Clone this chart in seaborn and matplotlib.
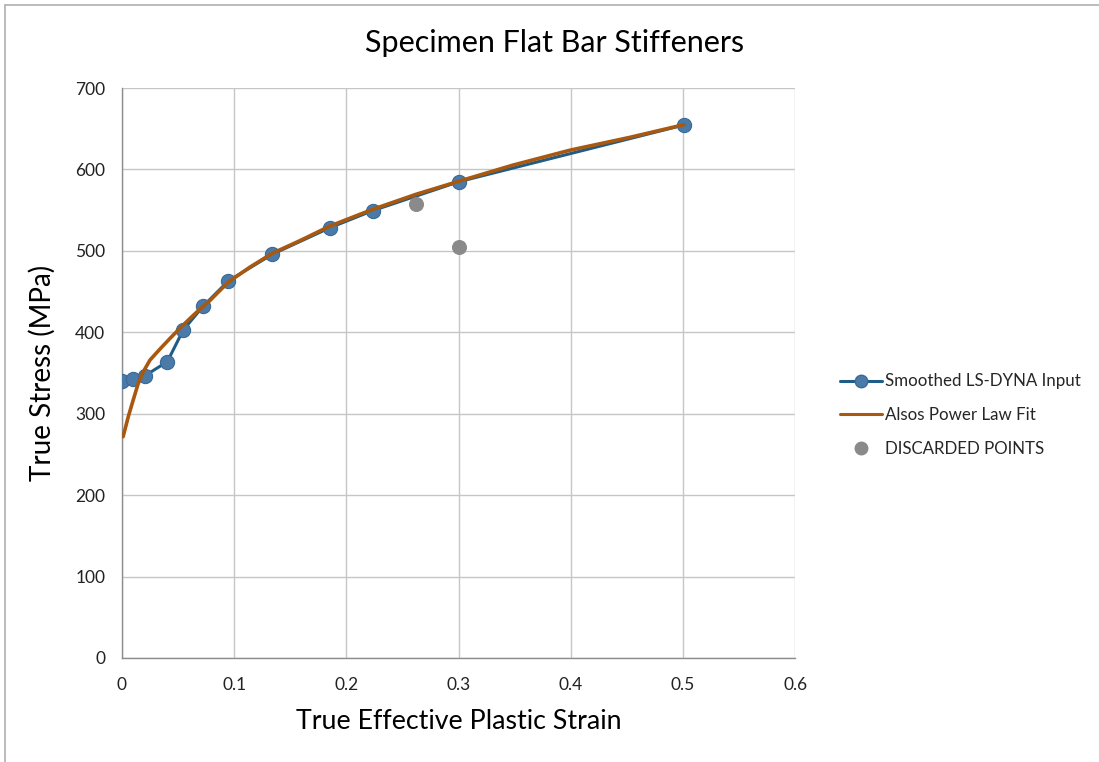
import numpy as np
import pandas as pd
import matplotlib
matplotlib.use("Agg")
import matplotlib.pyplot as plt
import seaborn as sns
from matplotlib.lines import Line2D

# STYLE
sns.set_theme(style="whitegrid")
plt.rcParams["font.family"] = ["Lato", "DejaVu Sans"]

# DATA
smooth_strain = [0.0, 0.0095, 0.0205, 0.0404, 0.0546, 0.0725, 0.0947, 0.134,
                 0.1853, 0.2235, 0.3005, 0.5009]
smooth_stress = [340.2, 342.6, 346.7, 363.9, 402.8, 432.3, 463.0, 495.8,
                 528.4, 549.4, 585.0, 654.6]

fit_strain = [0.001, 0.0056, 0.010, 0.0145, 0.019, 0.025, 0.0339, 0.0428,
              0.0517, 0.0606, 0.0695, 0.0784, 0.0947, 0.114, 0.134, 0.1586,
              0.1854, 0.2235, 0.262, 0.3005, 0.3487, 0.3998, 0.4527, 0.5009]
fit_stress = [271.8, 296.3, 316.8, 337.3, 351.6, 366.0, 379.5, 392.5,
              405.0, 417.0, 428.5, 439.0, 461.5, 480.0, 497.0, 512.5,
              530.5, 551.0, 569.4, 585.6, 605.4, 623.8, 639.4, 655.0]

discard_strain = [0.262, 0.3005]
discard_stress = [558.0, 505.0]

x_ticks = [0, 0.1, 0.2, 0.3, 0.4, 0.5, 0.6]
x_tick_labels = ["0", "0.1", "0.2", "0.3", "0.4", "0.5", "0.6"]
y_ticks = [0, 100, 200, 300, 400, 500, 600, 700]

BLUE_LINE = "#1f5c87"
BLUE_MARK = "#4a7aa8"
ORANGE = "#a8580f"
GRAY = "#8a8a8a"
GRID = "#c6c6c6"

smooth = pd.DataFrame({"strain": smooth_strain, "stress": smooth_stress})
fit = pd.DataFrame({"strain": fit_strain, "stress": fit_stress})
discard = pd.DataFrame({"strain": discard_strain, "stress": discard_stress})

fig = plt.figure(figsize=(10.99, 7.62), dpi=100)
ax = fig.add_axes([0.111, 0.1365, 0.6125, 0.748])

# Smoothed LS-DYNA input
sns.lineplot(data=smooth, x="strain", y="stress", ax=ax, color=BLUE_LINE,
             lw=2.2, sort=False, zorder=3)
sns.scatterplot(data=smooth, x="strain", y="stress", ax=ax, color=BLUE_MARK,
                edgecolor="#3a6a96", linewidth=0.8, s=105, zorder=4)

# Alsos power law fit
sns.lineplot(data=fit, x="strain", y="stress", ax=ax, color=ORANGE,
             lw=2.6, sort=False, zorder=5)

# discarded points
sns.scatterplot(data=discard, x="strain", y="stress", ax=ax, color=GRAY,
                edgecolor=GRAY, s=100, zorder=4)

ax.set_xlim(0, 0.6)
ax.set_ylim(0, 700)
ax.set_xticks(x_ticks)
ax.set_xticklabels(x_tick_labels)
ax.set_yticks(y_ticks)
ax.grid(True, color=GRID, lw=1.0)
ax.set_facecolor("white")
for side in ["left", "bottom"]:
    ax.spines[side].set_visible(True)
    ax.spines[side].set_color("#8c8c8c")
    ax.spines[side].set_linewidth(1.0)
for side in ["top", "right"]:
    ax.spines[side].set_visible(False)
ax.tick_params(axis="both", labelsize=12.5, colors="#222222", length=0)
ax.tick_params(axis="x", pad=14)
ax.tick_params(axis="y", pad=12)

ax.set_xlabel("True Effective Plastic Strain", fontsize=19.3, color="black",
              labelpad=11)
ax.set_ylabel("True Stress (MPa)", fontsize=20, color="black", labelpad=14)
fig.text(0.505, 0.943, "Specimen Flat Bar Stiffeners", ha="center",
         va="center", fontsize=22, color="black")

# legend
handles = [
    Line2D([0], [0], color=BLUE_LINE, lw=2.2, marker="o", markersize=9,
           markerfacecolor=BLUE_MARK, markeredgecolor="#3a6a96"),
    Line2D([0], [0], color=ORANGE, lw=2.2),
    Line2D([0], [0], color=GRAY, lw=0, marker="o", markersize=9,
           markerfacecolor=GRAY, markeredgecolor=GRAY),
]
labels = ["Smoothed LS-DYNA Input", "Alsos Power Law Fit", "DISCARDED POINTS"]
fig.legend(handles, labels, loc="center left", bbox_to_anchor=(0.75, 0.455),
           frameon=False, fontsize=12.2, handlelength=2.5, handletextpad=0.2,
           labelspacing=1.05)

# chart area border (left and top only, as in the reference)
fig.add_artist(Line2D([0.005, 0.005], [0.0, 0.994], color="#b0b0b0", lw=1.2,
                      transform=fig.transFigure))
fig.add_artist(Line2D([0.005, 1.0], [0.994, 0.994], color="#b0b0b0", lw=1.2,
                      transform=fig.transFigure))

fig.savefig("out.png", dpi=100, facecolor="white")
